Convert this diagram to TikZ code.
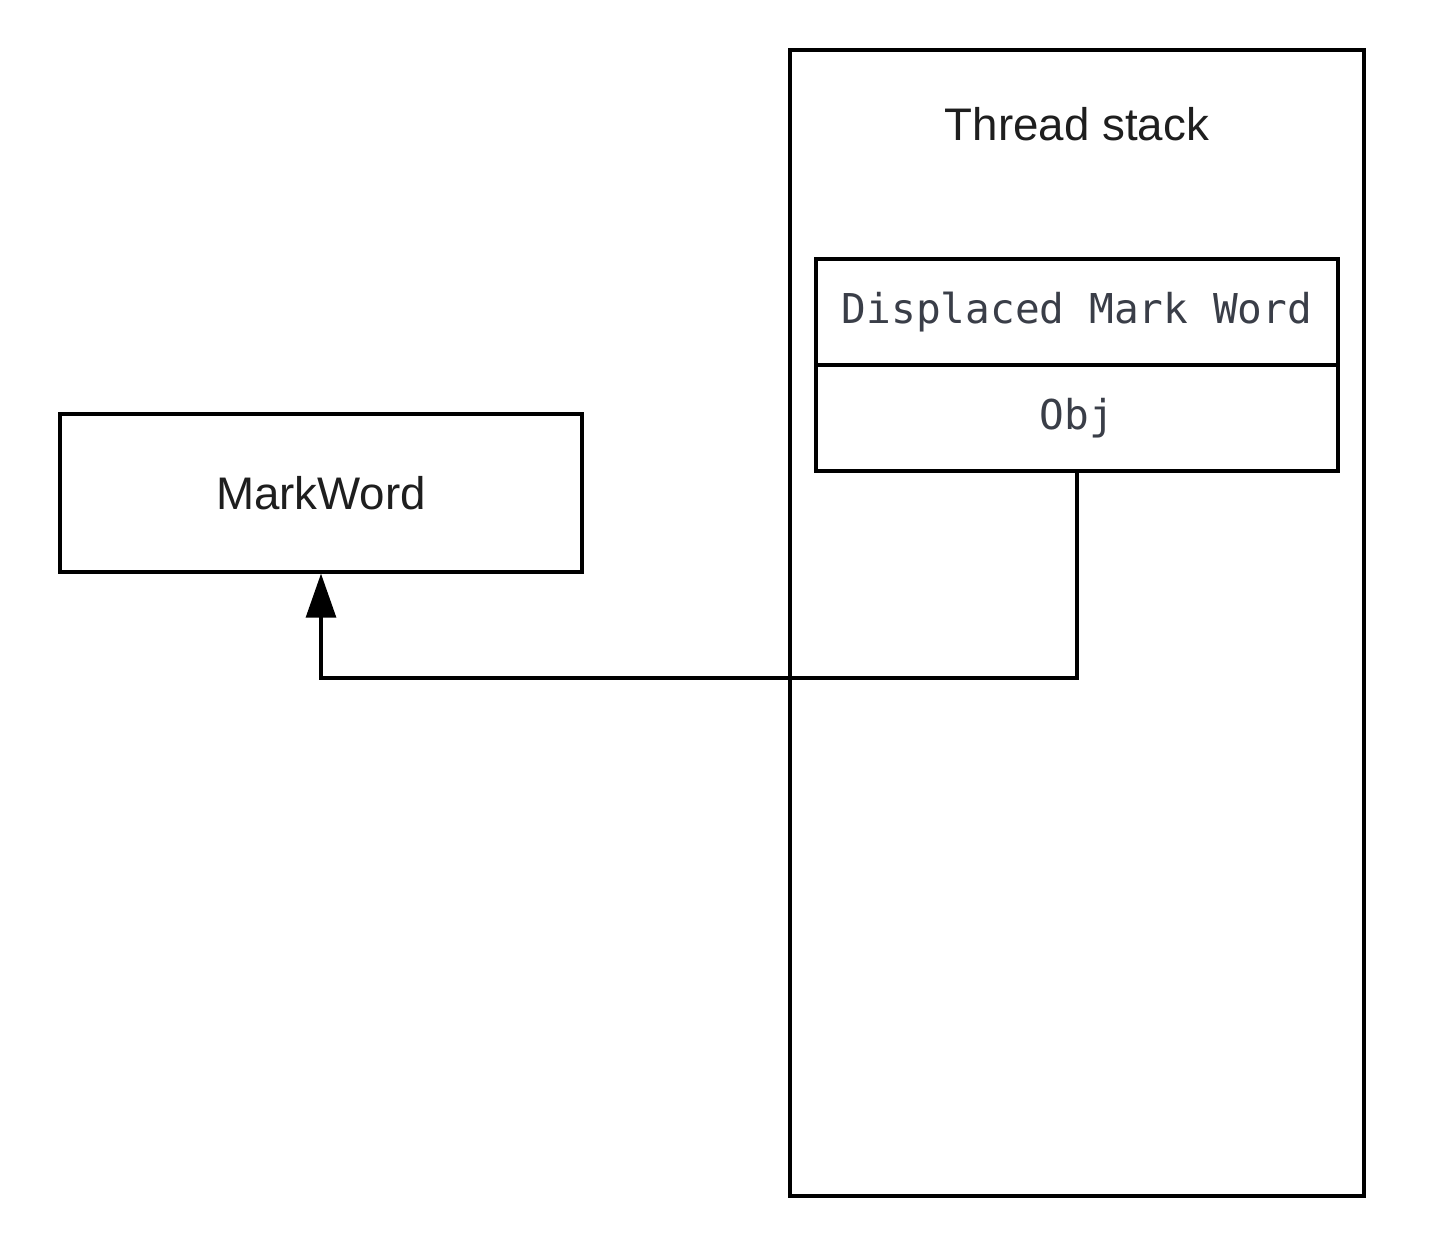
\documentclass[tikz,border=0pt]{standalone}
\usepackage{fontspec}
\setmainfont{Liberation Sans}
\setmonofont{DejaVu Sans Mono}
\usepackage{xcolor}
\usepackage{tikz}
\usetikzlibrary{arrows.meta}
\usetikzlibrary{positioning}
\definecolor{codegray}{RGB}{58,62,72}
\definecolor{txtdark}{RGB}{30,30,30}

\begin{document}
\begin{tikzpicture}[-,auto,line width=0.9pt]
 				 \tikzstyle{frame}=[draw, rectangle, inner sep=0pt]
 				 \tikzstyle{cell}=[frame, minimum width=5.22cm, minimum height=1.06cm, font=\ttfamily\fontsize{11.7}{14}\selectfont, text=codegray]
 				 \tikzstyle{lbl}=[font=\fontsize{13}{16}\selectfont, text=txtdark]
						\useasboundingbox (0,0) rectangle (14.3,-12.46);
						\node[frame, minimum width=5.74cm, minimum height=11.46cm] (stack) at (10.77,-6.23) {};
						\node[lbl] (title) at (10.77,-1.24) {Thread stack};
						\node[cell] (disp) at (10.77,-3.12) {Displaced Mark Word};
						\node[cell] (obj) [below=-0.9pt of disp] {Obj};
						\node[frame, lbl, minimum width=5.22cm, minimum height=1.58cm] (mark) at (3.21,-4.93) {MarkWord};
						\coordinate (bend) at (10.77,-6.78);
						
						\draw[-{Triangle[width=8.5pt,length=12.5pt]}]
							(obj.south) -- (bend) -| (mark.south);
 				\end{tikzpicture}
\end{document}
